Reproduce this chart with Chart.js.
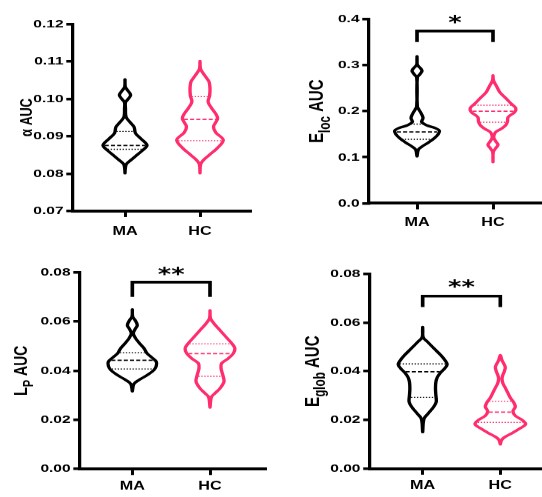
<!DOCTYPE html>
<html>
<head>
<meta charset="utf-8">
<script src="https://cdn.jsdelivr.net/npm/chart.js@4/dist/chart.umd.min.js"></script>
<style>
  html, body { margin: 0; padding: 0; background: #fff; }
  #fig { position: relative; width: 542px; height: 497px; overflow: hidden; background: #fff; }
  #fig canvas { position: absolute; }
</style>
</head>
<body>
<div id="fig">
  <canvas id="pAlpha" width="201" height="240" style="left:0px;top:0px;width:271px;height:240px"></canvas>
  <canvas id="pEloc"  width="201" height="240" style="left:271px;top:0px;width:271px;height:240px"></canvas>
  <canvas id="pLp"    width="201" height="257" style="left:0px;top:240px;width:271px;height:257px"></canvas>
  <canvas id="pEglob" width="201" height="257" style="left:271px;top:240px;width:271px;height:257px"></canvas>
</div>
<script>
// ---- groups and axis ticks ----
const groups = ['MA', 'HC'];
const alphaTicks = [0.07, 0.08, 0.09, 0.10, 0.11, 0.12];
const elocTicks  = [0.0, 0.1, 0.2, 0.3, 0.4];
const lpTicks    = [0.00, 0.02, 0.04, 0.06, 0.08];
const eglobTicks = [0.00, 0.02, 0.04, 0.06, 0.08];

// ---- violin profiles: value levels, density half-width (in group units), quartiles ----
const alphaMA = {
  levels: [0.0801, 0.0814, 0.0826, 0.0838, 0.0850, 0.0863, 0.0876, 0.0894, 0.0908, 0.0925, 0.0939, 0.0952, 0.0975, 0.0990, 0.0999, 0.1010, 0.1024, 0.1032, 0.1052],
  widths: [0, 0.004, 0.02, 0.09, 0.16, 0.24, 0.293, 0.21, 0.14, 0.12, 0.06, 0.013, 0.006, 0.006, 0.04, 0.075, 0.03, 0.004, 0],
  quartiles: [0.0865, 0.0875, 0.0913],
  quartileWidths: [0.23, 0.27, 0.115]
};
const alphaHC = {
  levels: [0.0801, 0.0825, 0.0836, 0.0850, 0.0868, 0.0890, 0.0910, 0.0925, 0.0937, 0.0948, 0.0960, 0.0975, 0.0992, 0.1008, 0.1028, 0.1046, 0.1059, 0.1069, 0.1081, 0.1101],
  widths: [0, 0.008, 0.045, 0.125, 0.23, 0.31, 0.21, 0.18, 0.21, 0.235, 0.21, 0.155, 0.108, 0.128, 0.133, 0.12, 0.075, 0.04, 0.006, 0],
  quartiles: [0.0888, 0.0945, 0.1006],
  quartileWidths: [0.29, 0.215, 0.11]
};
const elocMA = {
  levels: [0.102, 0.1164, 0.1222, 0.1323, 0.1417, 0.1504, 0.1575, 0.1633, 0.1691, 0.1764, 0.185, 0.1945, 0.2031, 0.2103, 0.273, 0.2805, 0.2877, 0.2949, 0.3007, 0.319],
  widths: [0, 0.018, 0.057, 0.153, 0.23, 0.28, 0.295, 0.24, 0.13, 0.061, 0.079, 0.057, 0.026, 0.004, 0.004, 0.04, 0.066, 0.035, 0.004, 0],
  quartiles: [0.139, 0.155, 0.172],
  quartileWidths: [0.20, 0.265, 0.085]
};
const elocHC = {
  levels: [0.0895, 0.1112, 0.1195, 0.127, 0.135, 0.1425, 0.1488, 0.1546, 0.1619, 0.1691, 0.1770, 0.1872, 0.1980, 0.2067, 0.2161, 0.2270, 0.2342, 0.2414, 0.2523, 0.2668, 0.2776],
  widths: [0, 0.004, 0.035, 0.066, 0.035, 0.01, 0.015, 0.035, 0.11, 0.165, 0.19, 0.20, 0.285, 0.30, 0.24, 0.175, 0.13, 0.088, 0.053, 0.006, 0],
  quartiles: [0.176, 0.200, 0.213],
  quartileWidths: [0.17, 0.27, 0.245]
};
const lpMA = {
  levels: [0.0316, 0.0346, 0.0362, 0.0382, 0.0403, 0.0420, 0.0436, 0.0454, 0.0470, 0.0491, 0.0511, 0.0531, 0.0551, 0.0568, 0.0585, 0.0606, 0.0620, 0.0649],
  widths: [0, 0.02, 0.086, 0.193, 0.28, 0.309, 0.309, 0.25, 0.19, 0.15, 0.094, 0.043, 0.013, 0.034, 0.064, 0.034, 0.004, 0],
  quartiles: [0.0407, 0.0442, 0.0473],
  quartileWidths: [0.265, 0.27, 0.16]
};
const lpHC = {
  levels: [0.0250, 0.0292, 0.0308, 0.0328, 0.0355, 0.0382, 0.0410, 0.0430, 0.0450, 0.0470, 0.0491, 0.0511, 0.0531, 0.0552, 0.0572, 0.0592, 0.0613, 0.0645],
  widths: [0, 0.017, 0.064, 0.129, 0.18, 0.165, 0.142, 0.15, 0.236, 0.30, 0.32, 0.28, 0.223, 0.163, 0.107, 0.05, 0.006, 0],
  quartiles: [0.0377, 0.0469, 0.0509],
  quartileWidths: [0.15, 0.28, 0.265]
};
const eglobMA = {
  levels: [0.0150, 0.0205, 0.0226, 0.0253, 0.0274, 0.0301, 0.0328, 0.0356, 0.0376, 0.0394, 0.0410, 0.0427, 0.0444, 0.0465, 0.0492, 0.0520, 0.0540, 0.0581],
  widths: [0, 0.017, 0.07, 0.14, 0.175, 0.17, 0.165, 0.17, 0.19, 0.23, 0.28, 0.315, 0.29, 0.236, 0.15, 0.064, 0.006, 0],
  quartiles: [0.0293, 0.0398, 0.0430],
  quartileWidths: [0.15, 0.22, 0.295]
};
const eglobHC = {
  levels: [0.0100, 0.0118, 0.0131, 0.0148, 0.0166, 0.0183, 0.0200, 0.0217, 0.0236, 0.0254, 0.0272, 0.0291, 0.0313, 0.0332, 0.0350, 0.0368, 0.0382, 0.0398, 0.0416, 0.0432, 0.0446, 0.0466],
  widths: [0, 0.017, 0.064, 0.163, 0.258, 0.326, 0.28, 0.193, 0.163, 0.193, 0.172, 0.129, 0.094, 0.064, 0.034, 0.022, 0.03, 0.05, 0.064, 0.043, 0.02, 0],
  quartiles: [0.0190, 0.0232, 0.0277],
  quartileWidths: [0.29, 0.15, 0.145]
};

// ---- significance brackets: [leg bottom, bar level], star label and its level ----
const elocBracket  = [0.350, 0.374];
const lpBracket    = [0.0700, 0.0760];
const eglobBracket = [0.0663, 0.0708];
const elocStars  = { text: '*',  y: 0.401 };
const lpStars    = { text: '**', y: 0.0809 };
const eglobStars = { text: '**', y: 0.0762 };

// ---- styling ----
const BLACK = '#000000';
const PINK = '#ff2d6e';
// Each panel is laid out in a narrower logical space and shown widened,
// giving the broad lettering of the figure.
const WIDEN = 1.35;
const FONT = '"Liberation Sans", Arial, Helvetica, sans-serif';

function violinOutline(v, center, color) {
  const pts = [];
  v.levels.forEach((y, i) => pts.push({ x: center + v.widths[i], y }));
  for (let i = v.levels.length - 2; i >= 0; i--) pts.push({ x: center - v.widths[i], y: v.levels[i] });
  return {
    data: pts, showLine: true, borderColor: color, borderWidth: 2.5,
    pointRadius: 0, pointHoverRadius: 0, tension: 0.35,
    borderJoinStyle: 'round', borderCapStyle: 'round', fill: false
  };
}

function quartileLines(v, center, color) {
  return v.quartiles.map((q, i) => ({
    data: [{ x: center - v.quartileWidths[i], y: q }, { x: center + v.quartileWidths[i], y: q }],
    showLine: true, borderColor: color,
    borderWidth: i === 1 ? 1.3 : 1,
    borderDash: i === 1 ? [3, 1.6] : [1, 1.2],
    pointRadius: 0, pointHoverRadius: 0, tension: 0
  }));
}

function bracket(b) {
  return {
    data: [{ x: 1, y: b[0] }, { x: 1, y: b[1] }, { x: 2, y: b[1] }, { x: 2, y: b[0] }],
    showLine: true, borderColor: BLACK, borderWidth: 2.7, pointRadius: 0, pointHoverRadius: 0,
    tension: 0, clip: false, borderJoinStyle: 'miter', borderCapStyle: 'butt'
  };
}

function titlePlugin(parts, size, xPos) {
  return {
    id: 'axisTitle',
    afterDraw(chart) {
      const { ctx, chartArea } = chart;
      ctx.save();
      ctx.translate(xPos, (chartArea.top + chartArea.bottom) / 2);
      ctx.rotate(-Math.PI / 2);
      ctx.fillStyle = BLACK;
      ctx.textBaseline = 'alphabetic';
      ctx.textAlign = 'left';
      const runs = parts.map(p => ({
        text: p.text, sub: !!p.sub,
        font: `bold ${p.sub ? size * 0.78 : size}px ${FONT}`
      }));
      let total = 0;
      runs.forEach(r => { ctx.font = r.font; r.w = ctx.measureText(r.text).width; total += r.w; });
      let x = -total / 2;
      const base = size * 0.358;
      runs.forEach(r => {
        ctx.font = r.font;
        ctx.fillText(r.text, x, base + (r.sub ? size * 0.3 : 0));
        x += r.w;
      });
      ctx.restore();
    }
  };
}

function starPlugin(stars, size) {
  return {
    id: 'sigStars',
    afterDraw(chart) {
      if (!stars) return;
      const { ctx, scales } = chart;
      ctx.save();
      ctx.fillStyle = BLACK;
      ctx.font = `bold ${size}px "DejaVu Sans", ${FONT}`;
      ctx.textAlign = 'center';
      ctx.textBaseline = 'alphabetic';
      ctx.fillText(stars.text, scales.x.getPixelForValue(1.5), scales.y.getPixelForValue(stars.y) + size * 0.52);
      ctx.restore();
    }
  };
}

function panel(id, cfg) {
  const datasets = [
    violinOutline(cfg.ma, 1, BLACK),
    violinOutline(cfg.hc, 2, PINK),
    ...quartileLines(cfg.ma, 1, BLACK),
    ...quartileLines(cfg.hc, 2, PINK)
  ];
  if (cfg.bracket) datasets.push(bracket(cfg.bracket));
  const ticks = cfg.ticks;
  new Chart(document.getElementById(id), {
    type: 'scatter',
    data: { datasets },
    options: {
      responsive: false,
      devicePixelRatio: WIDEN,
      animation: false,
      events: [],
      layout: { padding: { left: 0, right: cfg.padRight, top: cfg.padTop, bottom: 0 } },
      plugins: { legend: { display: false }, tooltip: { enabled: false } },
      scales: {
        x: {
          type: 'linear', min: cfg.xMin, max: cfg.xMax,
          afterBuildTicks: s => { s.ticks = groups.map((g, i) => ({ value: i + 1 })); },
          afterFit: s => { s.height = cfg.xHeight; },
          ticks: {
            callback: v => groups[v - 1], color: BLACK, padding: cfg.xPad,
            maxRotation: 0, autoSkip: false,
            font: { family: FONT, size: 12, weight: 'bold' }
          },
          grid: { drawOnChartArea: false, drawTicks: true, tickLength: 6, tickWidth: 2.2, tickColor: BLACK, lineWidth: 2.2, color: BLACK },
          border: { display: true, color: BLACK, width: 3 }
        },
        y: {
          min: ticks[0], max: ticks[ticks.length - 1],
          afterBuildTicks: s => { s.ticks = ticks.map(v => ({ value: v })); },
          afterFit: s => { s.width = cfg.left; },
          ticks: {
            callback: v => v.toFixed(cfg.decimals), color: BLACK, padding: 2, autoSkip: false,
            font: { family: FONT, size: 11.5, weight: 'bold' }
          },
          grid: { drawOnChartArea: false, drawTicks: true, tickLength: 5, tickWidth: 2.6, tickColor: BLACK, lineWidth: 2.6, color: BLACK },
          border: { display: true, color: BLACK, width: 2.4 }
        }
      }
    },
    plugins: [titlePlugin(cfg.title, cfg.titleSize, cfg.titleX), starPlugin(cfg.stars, 19)]
  });
}

panel('pAlpha', {
  ma: alphaMA, hc: alphaHC, ticks: alphaTicks, decimals: 2,
  left: 54.1, padRight: 15.8, padTop: 24, xHeight: 29, xPad: 7,
  xMin: 0.307, xMax: 2.667,
  title: [{ text: 'α' }, { text: ' AUC' }], titleSize: 12.5, titleX: 18.9
});
panel('pEloc', {
  ma: elocMA, hc: elocHC, ticks: elocTicks, decimals: 1,
  left: 72.6, padRight: 1, padTop: 19, xHeight: 36.7, xPad: 6,
  xMin: 0.368, xMax: 2.632, bracket: elocBracket, stars: elocStars,
  title: [{ text: 'E' }, { text: 'loc', sub: true }, { text: ' AUC' }], titleSize: 15, titleX: 33.5
});
panel('pLp', {
  ma: lpMA, hc: lpHC, ticks: lpTicks, decimals: 2,
  left: 59.3, padRight: 4.7, padTop: 32.3, xHeight: 28, xPad: 4,
  xMin: 0.327, xMax: 2.708, bracket: lpBracket, stars: lpStars,
  title: [{ text: 'L' }, { text: 'P', sub: true }, { text: ' AUC' }], titleSize: 14, titleX: 15.2
});
panel('pEglob', {
  ma: eglobMA, hc: eglobHC, ticks: eglobTicks, decimals: 2,
  left: 73.3, padRight: 1, padTop: 33.7, xHeight: 28.3, xPad: 4,
  xMin: 0.321, xMax: 2.524, bracket: eglobBracket, stars: eglobStars,
  title: [{ text: 'E' }, { text: 'glob', sub: true }, { text: ' AUC' }], titleSize: 15, titleX: 30.5
});
</script>
</body>
</html>
